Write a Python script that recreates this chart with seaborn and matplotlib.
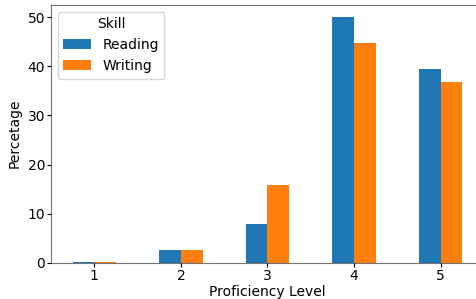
import matplotlib
matplotlib.use("Agg")
import matplotlib.pyplot as plt
import seaborn as sns
import pandas as pd

levels = ["1", "2", "3", "4", "5"]
reading = [0.1, 2.6, 7.9, 50.06, 39.5]
writing = [0.1, 2.6, 15.85, 44.75, 36.8]

df = pd.DataFrame({
    "Proficiency Level": levels * 2,
    "Percentage": reading + writing,
    "Skill": ["Reading"] * len(levels) + ["Writing"] * len(levels),
})

W, H = 477, 299
fig = plt.figure(figsize=(W / 100, H / 100), dpi=100)
ax = fig.add_axes([51 / W, 1 - 262.7 / H, (484 - 51) / W, (262.7 - 4.7) / H])
sns.barplot(data=df, x="Proficiency Level", y="Percentage", hue="Skill",
            palette=["#1f77b4", "#ff7f0e"], width=0.5, gap=0, saturation=1,
            ax=ax, errorbar=None)
ax.set_xlim(-0.5, 4.5)
ax.set_ylim(0, 52.56)
ax.set_yticks([0, 10, 20, 30, 40, 50])
ax.set_xlabel("Proficiency Level", fontsize=10, labelpad=1.5)
ax.set_ylabel("Percetage", fontsize=10)
ax.tick_params(labelsize=10, length=3.2, pad=1.0)
for s in ax.spines.values():
    s.set_color((0, 0, 0, 0.55))
    s.set_zorder(5)
ax.legend(title="Skill", loc="upper left", fontsize=10, title_fontsize=10)
fig.savefig("out.png", dpi=100)
